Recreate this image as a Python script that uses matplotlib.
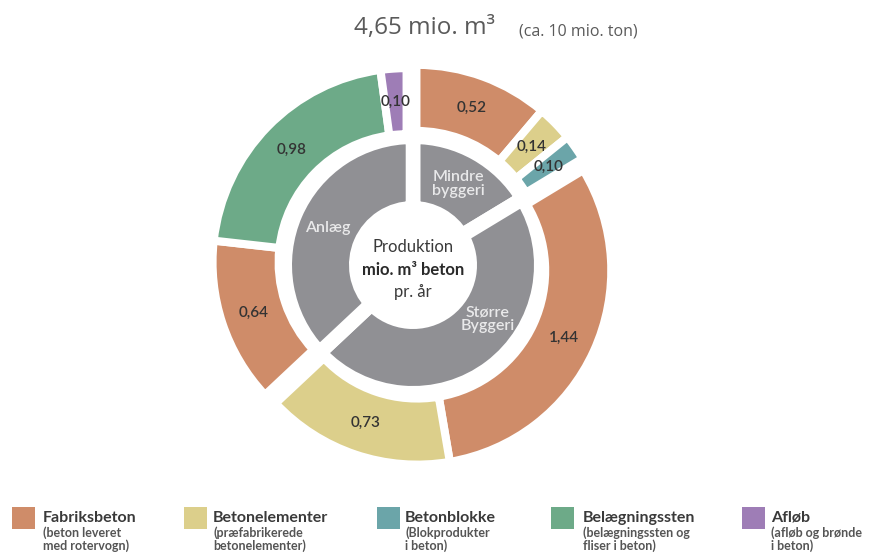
import matplotlib
matplotlib.use('Agg')
import matplotlib.pyplot as plt
import numpy as np
from matplotlib.patches import Rectangle

# ---------------- data ----------------
groups = ['Mindre\nbyggeri', 'Større\nByggeri', 'Anlæg']
mindre_values = [0.52, 0.14, 0.10]
mindre_types = ['Fabriksbeton', 'Betonelementer', 'Betonblokke']
stoerre_values = [1.44, 0.73]
stoerre_types = ['Fabriksbeton', 'Betonelementer']
anlaeg_values = [0.64, 0.98, 0.10]
anlaeg_types = ['Fabriksbeton', 'Belægningssten', 'Afløb']

legend_titles = ['Fabriksbeton', 'Betonelementer', 'Betonblokke', 'Belægningssten', 'Afløb']
legend_subs = [['(beton leveret', 'med rotervogn)'],
               ['(præfabrikerede', 'betonelementer)'],
               ['(Blokprodukter', 'i beton)'],
               ['(belægningssten og', 'fliser i beton)'],
               ['(afløb og brønde', 'i beton)']]

title_main = '4,65 mio. m³'
title_sub = '(ca. 10 mio. ton)'
center_lines = ['Produktion', 'mio. m³ beton', 'pr. år']

# ---------------- style ----------------
colors = {'Fabriksbeton': '#CF8C69', 'Betonelementer': '#DCCF8B',
          'Betonblokke': '#6BA5A9', 'Belægningssten': '#6DAA88',
          'Afløb': '#9E7DB6'}
gray = '#909094'
W, H = 873, 558
PX = 100 / 72.0  # px per point

fig = plt.figure(figsize=(W / 100, H / 100), dpi=100)
ax = fig.add_axes([0, 0, 1, 1])

cx, cy = 413, H - 265
group_values = [mindre_values, stoerre_values, anlaeg_values]
group_types = [mindre_types, stoerre_types, anlaeg_types]
group_totals = [sum(v) for v in group_values]
total = sum(group_totals)

# inner ring
lw_in = 10.5
r_in_out, r_in_in = 121, 64
wedges_in, _ = ax.pie(group_totals, radius=r_in_out + lw_in * PX / 2, center=(cx, cy),
                      startangle=90, counterclock=False, colors=[gray] * 3,
                      wedgeprops=dict(width=(r_in_out - r_in_in) + lw_in * PX,
                                      edgecolor='white', linewidth=lw_in))
label_frac = [0.5, 0.4, 0.5]
r_mid_in = (r_in_out + r_in_in) / 2
for w, name, f in zip(wedges_in, groups, label_frac):
    th = np.deg2rad(w.theta1 + (w.theta2 - w.theta1) * (1 - f))
    ax.text(cx + r_mid_in * np.cos(th), cy + r_mid_in * np.sin(th), name,
            ha='center', va='center', color='#E9E9EA', fontsize=11.5,
            family='Lato', fontweight='semibold', linespacing=1.0)

# outer ring, one pie per group, each slightly pushed outwards
lw_out = 5.8
r_out_out, r_out_in = 190, 132
shift = 7
start = 0.0
for vals, types in zip(group_values, group_types):
    span = sum(vals) / total * 360.0
    bis = np.deg2rad(start + span / 2)
    gx, gy = cx + shift * np.sin(bis), cy + shift * np.cos(bis)
    wedges, _ = ax.pie([v / total for v in vals], normalize=False,
                       radius=r_out_out + lw_out * PX / 2, center=(gx, gy),
                       startangle=90 - start, counterclock=False,
                       colors=[colors[t] for t in types],
                       wedgeprops=dict(width=(r_out_out - r_out_in) + lw_out * PX,
                                       edgecolor='white', linewidth=lw_out))
    rm = (r_out_out + r_out_in) / 2
    for w, v in zip(wedges, vals):
        th = np.deg2rad((w.theta1 + w.theta2) / 2)
        ax.text(gx + rm * np.cos(th), gy + rm * np.sin(th),
                f'{v:.2f}'.replace('.', ','), ha='center', va='center',
                color='#333333', fontsize=11, family='Lato', fontweight='semibold')
    start += span

# centre text
ax.text(cx, H - 247, center_lines[0], ha='center', va='center', fontsize=12,
        family='Lato', color='#3A3A3A')
ax.text(cx, H - 270, center_lines[1], ha='center', va='center', fontsize=12,
        family='Lato', fontweight='bold', color='#2A2A2A')
ax.text(cx, H - 292, center_lines[2], ha='center', va='center', fontsize=12,
        family='Lato', color='#3A3A3A')

# title
ax.text(354, H - 28, title_main, ha='left', va='center', fontsize=17.5,
        family='Open Sans', color='#5A5A5A')
ax.text(519, H - 31, title_sub, ha='left', va='center', fontsize=11.5,
        family='Open Sans', color='#5A5A5A')

# legend
sw_x = [12, 184, 377, 551, 742]
tx_x = [43, 213, 405, 583, 771]
for i, (t, subs) in enumerate(zip(legend_titles, legend_subs)):
    ax.add_patch(Rectangle((sw_x[i], H - 529), 23, 22, facecolor=colors[t],
                           edgecolor='none'))
    ax.text(tx_x[i], H - 518, t, ha='left', va='center', fontsize=11.5,
            family='Lato', fontweight='bold', color='#3A3A3A')
    for j, s in enumerate(subs):
        ax.text(tx_x[i], H - 533 - 13 * j, s, ha='left', va='center', fontsize=9,
                family='Lato', fontweight='bold', color='#555555')

ax.set_xlim(0, W)
ax.set_ylim(0, H)
ax.set_aspect('equal')
ax.axis('off')
fig.savefig('out.png', dpi=100)
